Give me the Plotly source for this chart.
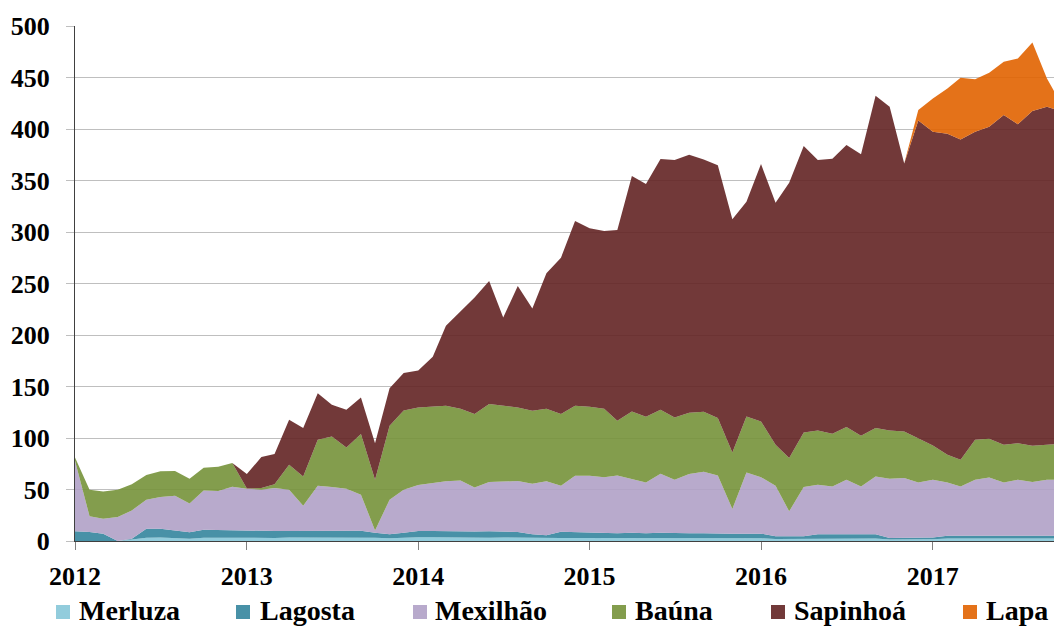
import plotly.graph_objects as go

# Monthly observations, Jan 2012 .. Oct 2017
months = [f"{y}-{m:02d}-01" for y in range(2012, 2018) for m in range(1, 13)][:70]

merluza = [
    0, 0, 0, 0, 1.5, 3.2, 3.5, 2.6, 2.3, 3.2,
    3.2, 2.6, 3.0, 3.0, 3.0, 3.5, 3.5, 3.6, 3.6, 3.6,
    3.6, 3.2, 2.6, 3.2, 3.6, 3.6, 3.4, 3.2, 3.0, 3.2,
    3.4, 3.2, 2.8, 2.6, 3.0, 3.0, 3.0, 2.8, 2.8, 3.0,
    3.0, 2.8, 2.8, 2.8, 2.8, 2.6, 2.6, 2.6, 2.6, 2.0,
    2.0, 2.2, 2.6, 2.6, 2.6, 2.6, 2.4, 1.5, 1.5, 1.5,
    1.8, 2.5, 2.5, 2.5, 3.0, 3.0, 2.8, 2.5, 2.5, 2.5,
]
lagosta = [
    9.4, 8.7, 7.1, 0, 0.8, 8.8, 8.5, 7.7, 6.1, 7.8,
    7.5, 7.4, 7.3, 7.0, 6.7, 6.2, 6.2, 6.4, 6.1, 6.4,
    6.4, 4.8, 3.9, 4.8, 6.1, 6.1, 6.0, 6.2, 6.2, 6.2,
    5.3, 5.5, 3.7, 2.9, 6.0, 5.5, 5.0, 5.2, 4.7, 5.0,
    4.5, 5.2, 4.7, 4.7, 4.7, 4.5, 4.5, 4.5, 4.5, 2.5,
    2.5, 2.3, 3.9, 3.9, 3.9, 3.9, 4.1, 1.4, 1.4, 1.4,
    1.7, 2.7, 2.7, 2.7, 2.5, 2.5, 2.7, 2.7, 2.7, 2.7,
]
mexilhao = [
    68.6, 15.3, 14.6, 23.3, 27.4, 28.0, 30.7, 33.7, 28.1, 38.0,
    37.8, 42.7, 40.4, 39.8, 41.7, 40.1, 24.6, 43.7, 42.7, 40.8,
    35.0, 2.3, 33.5, 41.8, 44.6, 46.6, 48.5, 49.4, 42.8, 47.8,
    49.2, 49.5, 49.1, 52.4, 44.7, 54.9, 55.4, 54.0, 56.2, 52.5,
    49.4, 57.3, 52.0, 57.5, 59.7, 56.4, 23.9, 59.5, 54.9, 49.2,
    24.3, 47.9, 48.1, 46.5, 53.0, 46.5, 56.2, 57.6, 58.2, 54.0,
    56.0, 51.7, 47.8, 54.3, 56.2, 51.4, 54.0, 52.0, 54.3, 54.3,
]
bauna = [
    3.0, 25.8, 26.3, 26.5, 25.3, 24.0, 24.9, 24.0, 24.0, 22.0,
    23.5, 23.0, 0.2, 1.6, 3.6, 24.2, 28.4, 44.6, 49.1, 40.0,
    58.8, 49.2, 71.9, 76.9, 75.3, 74.0, 73.4, 69.6, 71.2, 75.7,
    73.1, 71.4, 70.8, 70.4, 69.5, 67.9, 66.9, 66.3, 53.0, 65.3,
    63.7, 62.1, 60.4, 59.5, 58.2, 55.8, 55.0, 54.3, 54.0, 39.7,
    51.7, 53.0, 52.7, 51.1, 51.1, 49.2, 46.9, 46.8, 45.3, 42.6,
    33.1, 26.8, 25.9, 38.8, 37.6, 36.5, 35.5, 35.3, 33.9, 35.0,
]
sapinhoa = [
    0, 0, 0, 0, 0, 0, 0, 0, 0, 0,
    0, 0, 14.1, 30.1, 29.4, 43.7, 46.9, 45.2, 30.7, 36.6,
    35.5, 35.5, 36.5, 36.3, 35.9, 48.7, 77.6, 94.3, 113.1, 119.6,
    85.9, 118.0, 99.3, 131.6, 151.9, 179.4, 173.3, 172.7, 185.3, 228.5,
    226.0, 243.4, 250.0, 250.5, 245.1, 245.4, 226.3, 208.5, 250.0, 235.1,
    267.4, 278.0, 262.6, 267.0, 273.8, 273.2, 322.7, 314.3, 260.2, 308.8,
    304.7, 311.6, 311.0, 299.0, 302.9, 320.1, 309.5, 324.9, 328.2, 322.5,
]
lapa = [
    0, 0, 0, 0, 0, 0, 0, 0, 0, 0,
    0, 0, 0, 0, 0, 0, 0, 0, 0, 0,
    0, 0, 0, 0, 0, 0, 0, 0, 0, 0,
    0, 0, 0, 0, 0, 0, 0, 0, 0, 0,
    0, 0, 0, 0, 0, 0, 0, 0, 0, 0,
    0, 0, 0, 0, 0, 0, 0, 0, 0, 10.1,
    32.4, 44.1, 59.8, 51.1, 52.4, 51.7, 64.0, 66.6, 27.4, 8.0,
]

series_names = ["Merluza", "Lagosta", "Mexilhão", "Baúna", "Sapinhoá", "Lapa"]
series_values = [merluza, lagosta, mexilhao, bauna, sapinhoa, lapa]
series_colors = [
    "rgba(134,199,216,0.9)",
    "rgba(52,133,157,0.9)",
    "rgba(176,161,198,0.9)",
    "rgba(117,146,58,0.9)",
    "rgba(99,36,36,0.9)",
    "rgba(225,99,0,0.9)",
]

year_ticks = ["2012-01-01", "2013-01-01", "2014-01-01", "2015-01-01", "2016-01-01", "2017-01-01"]
year_labels = ["2012", "2013", "2014", "2015", "2016", "2017"]

W, H = 1054, 626
ML, MR, MT, MB = 75, 0, 26, 85
PW = W - ML - MR
PH = H - MT - MB


def px_x(px):
    return (px - ML) / PW


def px_y(py):
    return (H - MB - py) / PH


font_family = "Liberation Serif"

fig = go.Figure()
for name, vals, col in zip(series_names, series_values, series_colors):
    fig.add_trace(go.Scatter(
        x=months, y=vals, name=name, stackgroup="one", mode="lines",
        line=dict(width=0, color=col), fillcolor=col, showlegend=False,
    ))

# legend drawn as squares + labels (positions in pixels)
legend_square_px = [56, 236, 413, 612, 771, 963]
legend_text_px = [77, 258, 433, 633, 792, 984]
shapes = []
annotations = []
for name, col, sx, tx in zip(series_names, series_colors, legend_square_px, legend_text_px):
    shapes.append(dict(
        type="rect", xref="paper", yref="paper",
        x0=px_x(sx), x1=px_x(sx + 14), y0=px_y(619), y1=px_y(605),
        fillcolor=col, line=dict(width=0),
    ))
    annotations.append(dict(
        text=name, xref="paper", yref="paper", x=px_x(tx), y=px_y(610),
        xanchor="left", yanchor="middle", showarrow=False,
        font=dict(family=font_family, size=28, color="black", weight="bold"),
    ))

fig.update_layout(
    width=W, height=H,
    margin=dict(l=ML, r=MR, t=MT, b=MB),
    plot_bgcolor="white", paper_bgcolor="white",
    showlegend=False,
    shapes=shapes, annotations=annotations,
    xaxis=dict(
        type="date", range=["2012-01-01", "2017-09-16"],
        tickvals=year_ticks, ticktext=year_labels,
        ticks="outside", ticklen=8, tickcolor="#808080",
        showline=True, linecolor="#404040", linewidth=1,
        showgrid=False, zeroline=False,
        tickfont=dict(family=font_family, size=26, color="black", weight="bold"),
        ticklabelstandoff=4,
    ),
    yaxis=dict(
        range=[0, 500], dtick=50, tick0=0,
        ticks="outside", ticklen=8, tickcolor="#BFBFBF",
        showline=True, linecolor="#404040", linewidth=1,
        showgrid=True, gridcolor="#BFBFBF", gridwidth=1, zeroline=False,
        tickfont=dict(family=font_family, size=26, color="black", weight="bold"),
        ticklabelstandoff=11,
    ),
)

fig.write_html(
    "out.html",
    config={"displayModeBar": False},
    post_script="document.body.style.margin='0';document.body.style.overflow='hidden';",
)
